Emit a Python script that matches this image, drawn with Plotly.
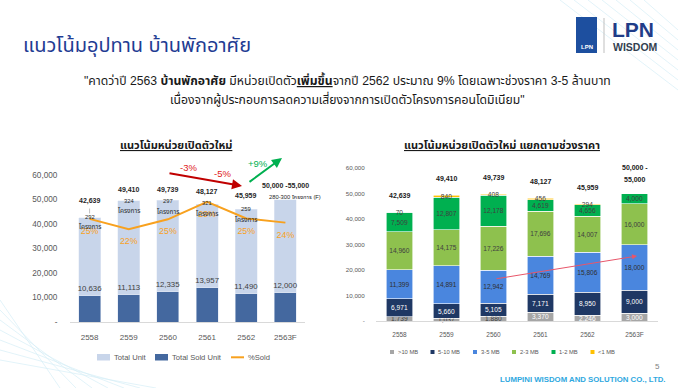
import plotly.graph_objects as go

W, H = 678, 388

# ---------------- data ----------------
years = ["2558", "2559", "2560", "2561", "2562", "2563F"]
total_units = [42639, 49410, 49739, 48127, 45959, 50000]
sold_units = [10636, 11113, 12335, 13957, 11490, 12000]
pct_sold = [0.249, 0.224, 0.248, 0.290, 0.250, 0.240]
project_counts = ["292", "324", "297", "321", "259", ""]
total_labels = ["42,639", "49,410", "49,739", "48,127", "45,959", "50,000 -55,000"]

price_ranges = [">10 MB", "5-10 MB", "3-5 MB", "2-3 MB", "1-2 MB", "<1 MB"]
units_gt10 = [1739, 1037, 1880, 3370, 2246, 3000]
units_5_10 = [6971, 5660, 5105, 7171, 8950, 9000]
units_3_5 = [11399, 14891, 12942, 14769, 15806, 18000]
units_2_3 = [14960, 14175, 17226, 17696, 14007, 16000]
units_1_2 = [7509, 12807, 12178, 4619, 4656, 4000]
units_lt1 = [70, 840, 408, 456, 294, 0]
right_total_labels = ["42,639", "49,410", "49,739", "48,127", "45,959", "50,000 -|55,000"]

yticks = [0, 10000, 20000, 30000, 40000, 50000, 60000]
ytick_text = ["-", "10,000", "20,000", "30,000", "40,000", "50,000", "60,000"]

# ---------------- helpers ----------------
def px(x):
    return x / W

def py(y):
    return 1 - y / H

FONT = "Liberation Sans, Arial, Noto Sans Thai, Tahoma, sans-serif"
GRAY = "#595959"

fig = go.Figure()

# ---------------- left chart ----------------
C_LIGHT = "#C8D5EA"
C_DARK = "#44689F"
C_ORANGE = "#F8A11E"

fig.add_trace(go.Bar(
    x=years, y=total_units, name="Total Unit", marker_color=C_LIGHT,
    width=0.56, xaxis="x", yaxis="y", showlegend=False, hoverinfo="skip"))
fig.add_trace(go.Bar(
    x=years, y=sold_units, name="Total Sold Unit", marker_color=C_DARK,
    width=0.56, xaxis="x", yaxis="y4", showlegend=False,
    text=[f"{v:,}" for v in sold_units], textposition="outside", constraintext="none",
    textfont=dict(size=7.8, color="#404040", family=FONT), cliponaxis=False))
fig.add_trace(go.Scatter(
    x=years, y=pct_sold, name="%Sold", mode="lines+markers+text",
    line=dict(color=C_ORANGE, width=2), marker=dict(size=12, color="rgba(0,0,0,0)"),
    xaxis="x", yaxis="y3",
    texttemplate="%{y:.0%}", textposition="bottom center",
    textfont=dict(size=8.8, color=C_ORANGE, family=FONT),
    showlegend=False, cliponaxis=False))

# ---------------- right chart ----------------
stack_series = [units_gt10, units_5_10, units_3_5, units_2_3, units_1_2, units_lt1]
stack_colors = ["#A6A6A6", "#1F3864", "#4A86DE", "#8EC14E", "#00B050", "#FFC000"]
text_colors = [
    ["#404040", "#404040", "#404040", "white", "white", "white"],
    ["white"] * 6,
    ["#303030"] * 6,
    ["#404040"] * 6,
    ["#404040"] * 6,
    ["#404040"] * 6,
]
for name, vals, col, tcol in zip(price_ranges, stack_series, stack_colors, text_colors):
    fig.add_trace(go.Bar(
        x=years, y=vals, name=name, marker=dict(color=col, line=dict(color="white", width=0.6)),
        width=0.57, xaxis="x2", yaxis="y2", showlegend=False,
        text=[f"{v:,}" if v else " " for v in vals], textposition="inside",
        insidetextanchor="middle", textangle=0, constraintext="none",
        textfont=dict(size=6.6, color=tcol, family=FONT), cliponaxis=False))

# ---------------- annotations ----------------
ann = []
shapes = []

def note(x, y, text, size, color, xref="paper", yref="paper", xanchor="center", **kw):
    d = dict(x=x, y=y, xref=xref, yref=yref, text=text, showarrow=False,
             xanchor=xanchor, yanchor="middle", font=dict(size=size, color=color, family=FONT))
    d.update(kw)
    ann.append(d)

# left totals & project counts (category index used as x position on category axis)
total_shift = [17, 11, 10, 12, 13, 13]
proj_shift = [1, 0, -1, 1, 0, 0]
for i, (tot, lab, pc, ts, ps) in enumerate(zip(total_units, total_labels, project_counts, total_shift, proj_shift)):
    note(i, tot, f"<b>{lab}</b>", 7, "#262626", xref="x", yref="y", yshift=ts)
    if pc:
        note(i, tot, pc, 5.8, "#262626", xref="x", yref="y", yshift=ps)
        note(i, tot, "โครงการ", 6.5, "#262626", xref="x", yref="y", yshift=ps - 10)
note(len(years) - 1, total_units[-1], "280-300 โครงการ (F)", 5.8, "#262626", xref="x", yref="y",
     yshift=2, xshift=10)
# leader line for the first project label
shapes.append(dict(type="line", xref="x", yref="y", x0=0, x1=0, yanchor=total_units[0],
                   ysizemode="pixel", y0=4, y1=9, line=dict(color="#A6A6A6", width=0.7)))

# right totals
for i, (tot, lab) in enumerate(zip([sum(v) for v in zip(*stack_series)], right_total_labels)):
    parts = lab.split("|")
    if len(parts) == 1:
        note(i, tot, f"<b>{lab}</b>", 7, "#1a1a1a", xref="x2", yref="y2", yshift=16)
    else:
        note(i, tot, f"<b>{parts[0]}</b>", 7, "#1a1a1a", xref="x2", yref="y2", yshift=25.5)
        note(i, tot, f"<b>{parts[1]}</b>", 7, "#1a1a1a", xref="x2", yref="y2", yshift=13.5)

# arrows (left)
ann.append(dict(x=px(242), y=py(186), xref="paper", yref="paper", ax=-74, ay=-13,
                showarrow=True, arrowhead=2, arrowsize=1, arrowwidth=2, arrowcolor="#C00000", text=""))
ann.append(dict(x=px(282), y=py(158), xref="paper", yref="paper", ax=-34, ay=25,
                showarrow=True, arrowhead=2, arrowsize=1, arrowwidth=2, arrowcolor="#00B050", text=""))
note(px(188), py(167), "-3%", 9.5, "#E02020")
note(px(222), py(173), "-5%", 9.5, "#E02020")
note(px(258), py(163), "+9%", 9.5, "#00B050")
# arrow (right)
ann.append(dict(x=px(637), y=py(256), xref="paper", yref="paper", ax=-142, ay=23,
                showarrow=True, arrowhead=2, arrowsize=1, arrowwidth=1, arrowcolor="#E8566A", text=""))

# chart titles
note(px(176), py(145), "<b><u>แนวโน้มหน่วยเปิดตัวใหม่</u></b>", 11, "#1a1a1a")
note(px(502), py(145), "<b><u>แนวโน้มหน่วยเปิดตัวใหม่ แยกตามช่วงราคา</u></b>", 11, "#1a1a1a")

# slide title and quote
note(px(21), py(45), "แนวโน้มอุปทาน บ้านพักอาศัย", 20, "#1F3C93", xanchor="left")
note(px(347), py(80),
     '"คาดว่าปี 2563 <b>บ้านพักอาศัย</b> มีหน่วยเปิดตัว<b><u>เพิ่มขึ้น</u></b>จากปี 2562 ประมาณ 9% โดยเฉพาะช่วงราคา 3-5 ล้านบาท',
     12.2, "#1a1a1a")
note(px(347), py(99), 'เนื่องจากผู้ประกอบการลดความเสี่ยงจากการเปิดตัวโครงการคอนโดมิเนียม"', 12.2, "#1a1a1a")

# logo
shapes.append(dict(type="rect", xref="paper", yref="paper", x0=px(576), x1=px(597), y0=py(53), y1=py(17),
                   fillcolor="#1D4F9F", line=dict(width=0)))
shapes.append(dict(type="line", xref="paper", yref="paper", x0=px(604), x1=px(604), y0=py(53), y1=py(18),
                   line=dict(color="#BFBFBF", width=1)))
note(px(586.5), py(47), "<b>LPN</b>", 6, "white")
note(px(610), py(30), "<b>LPN</b>", 21, "#1F3C88", xanchor="left")
note(px(611), py(47), "<b>WISDOM</b>", 10.5, "#333F50", xanchor="left")

# footer
note(px(662), py(366), "5", 8, "#7F7F7F", xanchor="right")
note(px(667), py(379), "<b>LUMPINI WISDOM AND SOLUTION CO., LTD.</b>", 7.8, "#2FA8E0", xanchor="right")

# left legend (manual)
leg_left = [("Total Unit", C_LIGHT, 97, "rect"), ("Total Sold Unit", C_DARK, 155, "rect"), ("%Sold", C_ORANGE, 231, "line")]
for name, col, x0, kind in leg_left:
    if kind == "rect":
        shapes.append(dict(type="rect", xref="paper", yref="paper", x0=px(x0), x1=px(x0 + 13),
                           y0=py(360.5), y1=py(354), fillcolor=col, line=dict(width=0)))
    else:
        shapes.append(dict(type="line", xref="paper", yref="paper", x0=px(x0), x1=px(x0 + 13),
                           y0=py(357.3), y1=py(357.3), line=dict(color=col, width=2)))
    note(px(x0 + 15), py(357), name, 7.6, GRAY, xanchor="left")

# right legend (manual)
leg_right_x = [390, 430.5, 473, 512, 551.5, 590.5]
for name, col, x0 in zip(price_ranges, stack_colors, leg_right_x):
    shapes.append(dict(type="rect", xref="paper", yref="paper", x0=px(x0), x1=px(x0 + 4),
                       y0=py(354), y1=py(350), fillcolor=col, line=dict(width=0)))
    note(px(x0 + 5.5), py(352), name, 5.8, GRAY, xanchor="left")

# decorative light lines (corners)
for i in range(7):
    shapes.append(dict(type="line", xref="paper", yref="paper",
                       x0=px(560 + i * 14), y0=py(0), x1=px(678), y1=py(90 - i * 10),
                       line=dict(color="#D6EEF7", width=0.7), layer="below"))
    shapes.append(dict(type="line", xref="paper", yref="paper",
                       x0=px(0), y0=py(300 + i * 10), x1=px(60 + i * 16), y1=py(388),
                       line=dict(color="#D6EEF7", width=0.7), layer="below"))

common_y = dict(range=[0, 60000], showgrid=False, zeroline=False, automargin=False)
common_x = dict(type="category", categoryorder="array", categoryarray=years, range=[-0.5, 5.5],
                showline=True, linecolor="#D9D9D9", linewidth=1, automargin=False,
                ticks="outside", tickcolor="rgba(0,0,0,0)", showgrid=False)

fig.update_layout(
    width=W, height=H,
    margin=dict(l=0, r=0, t=0, b=0, pad=0, autoexpand=False),
    paper_bgcolor="white", plot_bgcolor="rgba(0,0,0,0)",
    barmode="stack",
    font=dict(family=FONT, color=GRAY),
    showlegend=False,
    annotations=ann, shapes=shapes,
    xaxis=dict(domain=[px(70), px(305)], anchor="y", ticklen=7,
               tickfont=dict(size=8, color=GRAY), **common_x),
    yaxis=dict(domain=[py(322), py(175)], anchor="x", tickvals=yticks, ticktext=ytick_text,
               ticks="outside", ticklen=10, tickcolor="rgba(0,0,0,0)",
               tickfont=dict(size=8.2, color=GRAY), **common_y),
    yaxis4=dict(overlaying="y", anchor="x", visible=False, **common_y),
    yaxis3=dict(overlaying="y", range=[0, 0.355], visible=False, anchor="x", automargin=False),
    xaxis2=dict(domain=[px(376), px(658)], anchor="y2", ticklen=7,
                tickfont=dict(size=6.5, color=GRAY), **common_x),
    yaxis2=dict(domain=[py(321), py(168)], anchor="x2", tickvals=yticks, ticktext=ytick_text,
                ticks="outside", ticklen=9, tickcolor="rgba(0,0,0,0)",
                tickfont=dict(size=6.2, color=GRAY), **common_y),
)

fig.write_html("out.html", config={"displayModeBar": False},
               post_script="document.body.style.margin='0';document.body.style.overflow='hidden';")
